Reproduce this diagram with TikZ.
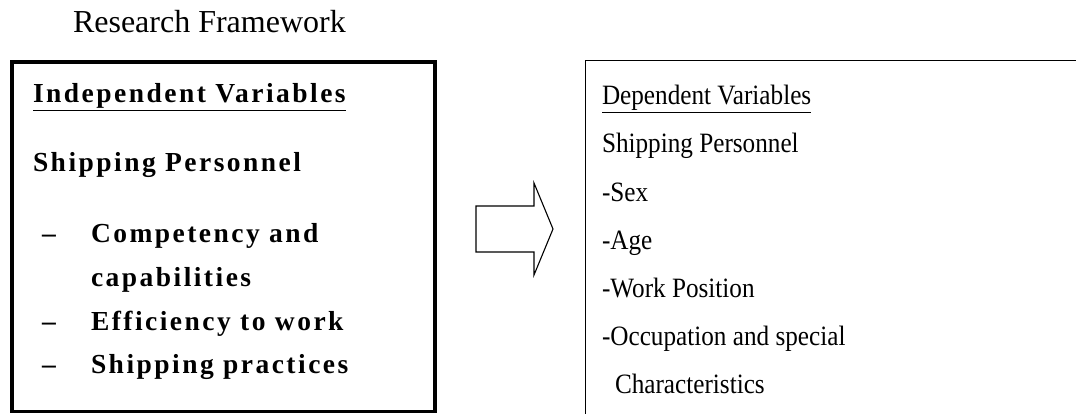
\documentclass[tikz,border=0pt]{standalone}
\usepackage{fontspec}
\setmainfont{Liberation Serif}
\newfontfamily\leftfont[LetterSpace=9]{Liberation Serif Bold}
\newfontfamily\rightfont[FakeStretch=0.9]{Liberation Serif}
\begin{document}
\begin{tikzpicture}[x=1pt,y=-1pt,
  every node/.style={inner sep=0pt,outer sep=0pt,anchor=base west},
  lefttext/.style={font=\leftfont\fontsize{27.5}{32}\selectfont},
  righttext/.style={font=\rightfont\fontsize{28}{32}\selectfont},
  titletext/.style={font=\fontsize{32}{38}\selectfont},
  thickbox/.style={draw=black,line width=3.5pt},
  thinbox/.style={draw=black,line width=1.5pt},
  blockarrow/.style={draw=black,line width=1.1pt,line join=miter}]
\useasboundingbox (0,0) rectangle (1076,414);
% title
\node[titletext] (title) at (73,33) {Research Framework};
% left box
\draw[thickbox] (12,62) rectangle (435,411.5);
\node[lefttext] (iv) at (33,103) {\underline{Independent Variables}};
\node[lefttext] (sp) at (33,172) {Shipping Personnel};
\node[lefttext] (d1) at (42,243) {\textendash};
\node[lefttext] (c1) at (91,243) {Competency and};
\node[lefttext] (c2) at (91,286) {capabilities};
\node[lefttext] (d2) at (42,330) {\textendash};
\node[lefttext] (c3) at (91,330) {Efficiency to work};
\node[lefttext] (d3) at (42,373) {\textendash};
\node[lefttext] (c4) at (91,373) {Shipping practices};
% arrow
\draw[blockarrow] (476,206) -- (534,206) -- (534,183) -- (553,229) -- (534,275) -- (534,252) -- (476,252) -- cycle;
% right box (open on right and bottom)
\draw[thinbox] (585.5,414) -- (585.5,60.5) -- (1076,60.5);
\node[righttext] (dv) at (602,105) {\underline{Dependent Variables}};
\node[righttext] (r1) at (602,153) {Shipping Personnel};
\node[righttext] (r2) at (602,202) {-Sex};
\node[righttext] (r3) at (602,249) {-Age};
\node[righttext] (r4) at (602,297) {-Work Position};
\node[righttext] (r5) at (602,345) {-Occupation and special};
\node[righttext] (r6) at (615,393) {Characteristics};
\end{tikzpicture}
\end{document}
